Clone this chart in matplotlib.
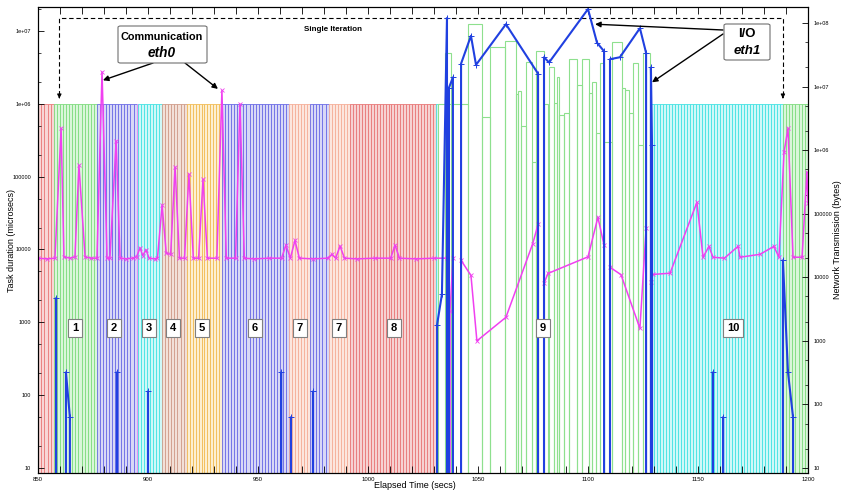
import matplotlib.pyplot as plt
import numpy as np
from matplotlib.patches import FancyBboxPatch
from matplotlib.ticker import LogLocator, MultipleLocator, NullFormatter

plt.rcParams['font.family'] = ['Liberation Sans', 'DejaVu Sans']

# task phases: start / end (secs), number of tasks, outline + fill colour
phase_start = [850.0, 857.2, 876.8, 894.8, 895.6, 906.2, 917.7, 933.6, 964.3, 973.6, 982.1, 991.8, 1030.9, 1128.6, 1188.6]
phase_end = [857.2, 876.8, 894.8, 895.6, 906.2, 917.7, 933.6, 964.3, 973.6, 982.1, 991.8, 1030.9, 1031.8, 1188.6, 1200.0]
phase_ntasks = [5, 14, 13, 1, 8, 8, 12, 22, 7, 6, 7, 29, 1, 44, 8]
phase_edge = ['#ea7c7c', '#80dc80', '#6c6ce6', '#f08cf0', '#45e2e2', '#d09c8a', '#f2bc55',
              '#6c6ce6', '#f5ae98', '#6c6ce6', '#f5ae98', '#e87878', '#45e2e2', '#45e2e2', '#80dc80']
phase_fill = ['#f8d6d6', '#daf6da', '#d8d8f6', '#fadcfa', '#cff8f8', '#f2e0d8', '#fcefd2',
              '#d8d8f6', '#fce6de', '#d8d8f6', '#fce6de', '#f6d2d2', '#cff8f8', '#cff8f8', '#daf6da']
task_dur = 1e6  # microsecs

# phase 9 (I/O) tasks have uneven durations
io_start = [1031.8, 1035.0, 1045.5, 1051.8, 1055.5, 1062.3, 1067.3, 1068.2, 1069.5, 1071.8, 1074.5,
            1076.4, 1080.0, 1082.3, 1084.5, 1085.9, 1086.8, 1089.1, 1091.4, 1095.0, 1097.3, 1100.5,
            1101.8, 1103.6, 1105.5, 1107.3, 1110.9, 1115.5, 1116.8, 1118.6, 1120.5, 1122.7, 1125.0]
io_end = [1045.5, 1037.7, 1051.8, 1055.5, 1062.3, 1067.3, 1068.2, 1069.5, 1071.8, 1074.5, 1076.4,
          1080.0, 1081.8, 1084.5, 1085.9, 1086.8, 1089.1, 1091.4, 1095.0, 1097.3, 1100.5, 1101.8,
          1103.6, 1105.5, 1107.3, 1110.9, 1115.5, 1116.8, 1118.6, 1120.5, 1122.7, 1125.0, 1128.2]
io_dur = [1.0e6, 5.0e6, 1.25e7, 6.6e5, 6.0e6, 7.3e6, 1.37e6, 1.5e6, 5.0e5, 3.8e6, 1.6e5,
          5.3e6, 1.0e6, 3.2e6, 1.03e6, 2.3e6, 7.1e5, 7.5e5, 4.1e6, 1.8e6, 4.1e6, 1.4e6,
          2.0e6, 4.0e5, 3.6e6, 3.0e5, 7.1e6, 1.66e6, 1.55e6, 7.5e5, 3.6e6, 2.7e5, 5.0e6]

# network transmission on eth0 (communication)
eth0_t = [850.0, 854.0, 857.7, 860.5, 861.8, 864.5, 866.8, 868.6, 871.4, 874.0, 876.8, 879.1, 881.4,
          882.7, 885.5, 887.3, 890.0, 893.0, 894.8, 896.4, 897.6, 899.1, 900.5, 903.0, 904.3, 906.4,
          908.3, 910.3, 912.3, 914.3, 916.6, 918.6, 920.6, 923.0, 925.0, 927.0, 931.3, 933.6, 935.6,
          939.8, 941.8, 943.8, 948.0, 955.0, 960.7, 962.7, 964.7, 966.8, 968.8, 975.0, 981.6, 983.6,
          985.3, 987.3, 989.3, 995.0, 1003.0, 1010.3, 1012.3, 1014.3, 1022.0, 1030.0, 1035.9, 1036.0,
          1037.3, 1038.6, 1039.0, 1042.2, 1042.3, 1046.8, 1049.5, 1062.7, 1074.9, 1077.3, 1077.5,
          1080.0, 1081.8, 1100.0, 1104.5, 1107.3, 1107.5, 1110.0, 1115.0, 1123.6, 1126.4, 1126.6,
          1128.6, 1129.5, 1137.3, 1149.5, 1152.3, 1155.0, 1156.8, 1162.0, 1168.2, 1169.1, 1178.2,
          1184.5, 1186.8, 1189.1, 1190.9, 1193.2, 1197.3, 1199.5, 1200.0]
eth0_bytes = [2.0e4, 1.95e4, 2.0e4, 2.2e6, 2.1e4, 2.0e4, 2.1e4, 5.8e5, 2.1e4, 2.0e4, 2.0e4, 1.7e7, 2.0e4,
              2.0e4, 1.4e6, 2.0e4, 1.95e4, 2.0e4, 2.1e4, 2.9e4, 2.2e4, 2.7e4, 2.0e4, 1.95e4, 2.0e4, 1.36e5,
              2.4e4, 2.3e4, 5.4e5, 2.0e4, 2.0e4, 4.2e5, 2.0e4, 2.0e4, 3.5e5, 2.0e4, 2.0e4, 8.7e6, 2.0e4,
              2.0e4, 5.3e6, 2.0e4, 1.95e4, 2.0e4, 2.0e4, 3.2e4, 2.0e4, 3.8e4, 2.0e4, 1.95e4, 2.0e4, 2.3e4,
              2.0e4, 3.1e4, 2.0e4, 1.95e4, 2.0e4, 2.0e4, 3.2e4, 2.0e4, 1.95e4, 2.0e4, 2.0e4, 0,
              3.0e3, 2.0e4, 0, 0, 1.85e4, 1.07e4, 1.0e3, 2.35e3, 3.4e4, 6.8e4, 0,
              8.0e3, 1.15e4, 2.1e4, 8.8e4, 3.2e4, 0, 1.44e4, 1.1e4, 1.57e3, 5.9e4, 0,
              8.3e3, 1.11e4, 1.16e4, 1.51e5, 2.07e4, 3.07e4, 2.07e4, 2.0e4, 3.07e4, 2.07e4, 2.3e4,
              3.07e4, 2.07e4, 9.3e5, 2.2e6, 2.07e4, 2.07e4, 4.5e5, 1.5e5]

# network transmission on eth1 (I/O)
eth1_t = [850.0, 857.9, 858.2, 858.5, 862.5, 862.7, 864.5, 864.8, 885.7, 885.9, 886.1, 899.8, 900.0,
          900.2, 960.3, 960.5, 960.7, 964.8, 965.0, 965.2, 974.8, 975.0, 975.2, 1031.2, 1031.4, 1033.6,
          1035.9, 1036.2, 1036.8, 1038.6, 1038.9, 1042.1, 1042.3, 1046.8, 1049.1, 1062.7, 1077.3,
          1077.5, 1079.8, 1080.0, 1082.3, 1100.0, 1104.1, 1107.3, 1107.5, 1109.8, 1110.0, 1114.5,
          1123.6, 1126.4, 1126.6, 1128.4, 1128.6, 1129.1, 1129.5, 1156.6, 1156.8, 1157.0, 1161.2,
          1161.4, 1161.6, 1188.4, 1188.6, 1190.9, 1193.2, 1193.5, 1200.0]
eth1_bytes = [0, 0, 4.7e3, 0, 0, 320, 63, 0, 0, 320, 0, 0, 160,
              0, 0, 320, 0, 0, 63, 0, 0, 160, 0, 0, 1.8e3, 5.4e3,
              1.2e8, 0, 9.6e6, 1.4e7, 0, 0, 2.3e7, 6.3e7, 2.2e7, 9.6e7, 1.6e7,
              0, 0, 2.9e7, 2.4e7, 1.66e8, 4.9e7, 3.6e7, 0, 0, 2.7e7, 2.9e7,
              8.3e7, 3.4e7, 0, 0, 2.0e7, 1.2e6, 0, 0, 320, 0, 0,
              63, 0, 0, 1.85e4, 320, 63, 0, 0]

iter_labels = ['1', '2', '3', '4', '5', '6', '7', '7', '8', '9', '10']
iter_label_x = [866.8, 884.5, 900.5, 911.4, 924.5, 948.6, 969.1, 986.8, 1011.8, 1079.5, 1165.9]

xticks = [850, 900, 950, 1000, 1050, 1100, 1150, 1200]
left_ticks = [10, 100, 1000, 1e4, 1e5, 1e6, 1e7]
left_ticklabels = ['10', '100', '1000', '10000', '100000', '1e+06', '1e+07']
right_ticks = [10, 100, 1000, 1e4, 1e5, 1e6, 1e7, 1e8]
right_ticklabels = ['10', '100', '1000', '10000', '100000', '1e+06', '1e+07', '1e+08']

W, H = 842, 490
fig = plt.figure(figsize=(W / 100, H / 100), dpi=100)
ax = fig.add_axes([38 / W, 17 / H, 770 / W, 466 / H])
ax.set_yscale('log', nonpositive='clip')

# task bars
for s, e, n, ec, fc in zip(phase_start, phase_end, phase_ntasks, phase_edge, phase_fill):
    edges = np.linspace(s, e, n + 1)
    ax.bar(edges[:-1], task_dur, width=np.diff(edges), align='edge',
           facecolor=fc, edgecolor=ec, linewidth=0.6)
ax.bar(io_start, io_dur, width=np.array(io_end) - np.array(io_start), align='edge',
       facecolor='none', edgecolor='#8ee08e', linewidth=0.8)

ax.set_xlim(850, 1200)
ax.set_ylim(8.54, 2.13e7)

# single iteration bracket
ax.plot([859.7, 859.7, 1188.6, 1188.6], [1.3e6, 1.5e7, 1.5e7, 1.3e6], ls='--', color='k', lw=0.8, dashes=(4, 2.5))
for xb in [859.7, 1188.6]:
    ax.annotate('', xy=(xb, 1.08e6), xytext=(xb, 1.35e6),
                arrowprops=dict(arrowstyle='-|>', color='k', lw=0.8, mutation_scale=6))
ax.text(984, 1.03e7, 'Single Iteration', ha='center', va='center', fontsize=5.8, fontweight='bold')

ax.set_xticks(xticks)
ax.set_xticklabels([str(x) for x in xticks])
ax.xaxis.set_minor_locator(MultipleLocator(10))
ax.set_yticks(left_ticks)
ax.set_yticklabels(left_ticklabels)
ax.yaxis.set_minor_locator(LogLocator(base=10, subs=(2, 5)))
ax.yaxis.set_minor_formatter(NullFormatter())
ax.tick_params(axis='x', which='both', direction='in', length=5, width=0.6, top=True,
               labelsize=4.3, pad=3)
ax.tick_params(axis='y', which='major', direction='in', length=4, width=0.6, labelsize=4, pad=5)
ax.tick_params(axis='y', which='minor', direction='in', length=2.5, width=0.5)

ax.set_xlabel('Elapsed Time (secs)', fontsize=6.5)
ax.xaxis.set_label_coords(0.49, -0.018)
ax.set_ylabel('Task duration (microsecs)', fontsize=6.5)
ax.yaxis.set_label_coords(-0.029, 0.5)

# network traffic on the right axis
ax2 = ax.twinx()
ax2.set_yscale('log', nonpositive='clip')
ax2.plot(eth0_t, eth0_bytes, color='#f040f0', lw=1.1, marker='x', ms=2.5, mew=0.6)
ax2.plot(eth1_t, eth1_bytes, color='#2040e0', lw=1.5, marker='+', ms=4, mew=0.7)
ax2.set_ylim(8.34, 1.79e8)
ax2.set_yticks(right_ticks)
ax2.set_yticklabels(right_ticklabels)
ax2.yaxis.set_minor_locator(LogLocator(base=10, subs=(2, 5)))
ax2.yaxis.set_minor_formatter(NullFormatter())
ax2.tick_params(axis='y', which='major', direction='in', length=4, width=0.6, labelsize=4, pad=4)
ax2.tick_params(axis='y', which='minor', direction='in', length=2.5, width=0.5)
ax2.set_ylabel('Network Transmission (bytes)', fontsize=6.5)
ax2.yaxis.set_label_coords(1.032, 0.5)
ax2.set_xlim(850, 1200)

for lab, x in zip(iter_labels, iter_label_x):
    ax2.text(x, 1575, lab, ha='center', va='center', fontsize=8, fontweight='bold', zorder=10,
             bbox=dict(boxstyle='square,pad=0.35', fc='white', ec='#808080', lw=0.8))

# callout boxes
def figpos(px, py):
    return (px / W, 1 - py / H)

for (x0, y0, x1, y1) in [(118, 26, 207, 63), (724, 24, 770, 60)]:
    fig.patches.append(FancyBboxPatch(figpos(x0, y1), (x1 - x0) / W, (y1 - y0) / H,
                                      boxstyle='round,pad=0,rounding_size=0.003',
                                      transform=fig.transFigure, fc='white', ec='#707070',
                                      lw=0.8, zorder=5))
fig.text(*figpos(162, 37), 'Communication', ha='center', va='center', fontsize=7.8,
         fontweight='bold', zorder=6)
fig.text(*figpos(162, 53), 'eth0', ha='center', va='center', fontsize=9.8,
         fontweight='bold', style='italic', zorder=6)
fig.text(*figpos(747, 34), 'I/O', ha='center', va='center', fontsize=9.5,
         fontweight='bold', zorder=6)
fig.text(*figpos(747, 51), 'eth1', ha='center', va='center', fontsize=9.5,
         fontweight='bold', style='italic', zorder=6)

arrow_kw = dict(arrowstyle='-|>', color='k', lw=1.0, mutation_scale=8, shrinkA=0, shrinkB=0)
for target, src in [((879.5, 1.26e7), (153, 63)), ((931.8, 9.2e6), (185, 63)),
                    ((1103.2, 9.6e7), (723, 30)), ((1129.1, 1.17e7), (723, 34))]:
    ax2.annotate('', xy=target, xycoords='data', xytext=figpos(*src),
                 textcoords='figure fraction', arrowprops=arrow_kw, annotation_clip=False)

for a in (ax, ax2):
    for sp in a.spines.values():
        sp.set_linewidth(0.8)

fig.savefig('out.png', dpi=100)
